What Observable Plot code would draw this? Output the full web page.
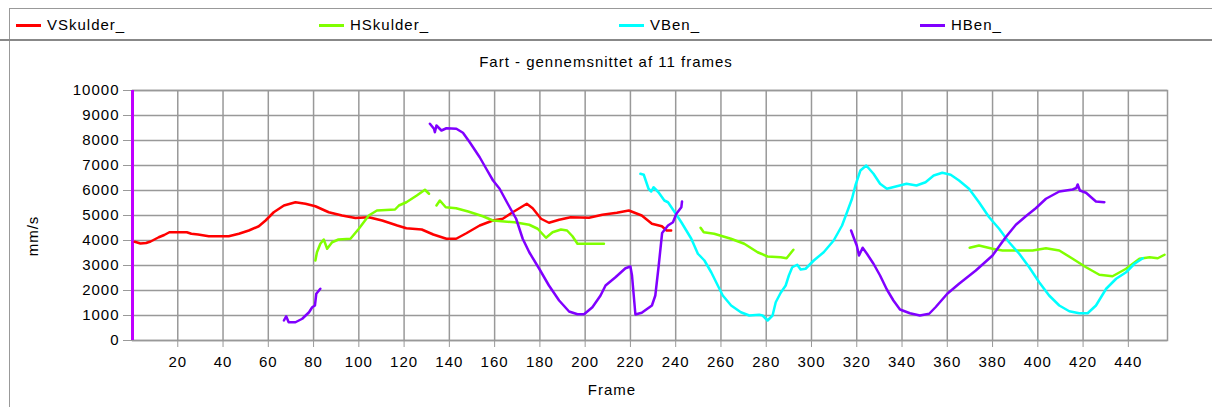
<!DOCTYPE html>
<html><head><meta charset="utf-8">
<script src="https://cdn.jsdelivr.net/npm/d3@7"></script>
<script src="https://cdn.jsdelivr.net/npm/@observablehq/plot@0.6"></script>
<style>
body{margin:0;background:#fff;font-family:Arial,"Liberation Sans",sans-serif;}
#wrap{position:relative;width:1212px;height:407px;overflow:hidden;background:#fff}
#box{position:absolute;left:9px;top:8px;width:1250px;height:420px;border-left:1px solid #999;border-top:1px solid #999}
#legend{position:absolute;left:0;top:9px;width:1212px;height:30px;border-bottom:2px solid #888}
.item{position:absolute;top:7px;font-size:15px;letter-spacing:1px;line-height:17px;white-space:nowrap}
.sw{position:absolute;top:15px;width:25px;height:3px}
#title{position:absolute;top:53px;left:0;width:1212px;text-align:center;font-size:15px;letter-spacing:1px;line-height:17px}
#chart{position:absolute;left:0;top:80px}
#xlab{position:absolute;top:381px;left:0;width:1224px;text-align:center;font-size:15px;letter-spacing:1px;line-height:17px}
#ylab{position:absolute;left:32px;top:236px;transform:translate(-50%,-50%) rotate(-90deg);font-size:15px;letter-spacing:1px;line-height:17px;white-space:nowrap}
#chart svg text{letter-spacing:1px}
</style>
</head><body>
<div id="wrap">
  <div id="box"></div>
  <div id="legend"></div>
  <div id="title"></div>
  <div id="chart"></div>
  <div id="xlab"></div>
  <div id="ylab"></div>
</div>
<script>
const seriesNames = ["VSkulder_", "HSkulder_", "VBen_", "HBen_"];
const seriesColors = ["#ff0000", "#80ff00", "#00ffff", "#8000ff"];
const titleText = "Fart - gennemsnittet af 11 frames";
const xLabel = "Frame";
const yLabel = "mm/s";
const xTicks = [20,40,60,80,100,120,140,160,180,200,220,240,260,280,300,320,340,360,380,400,420,440];
const yTicks = [0,1000,2000,3000,4000,5000,6000,7000,8000,9000,10000];

// VSkulder_ (red)
const vSkulder = [[1,3950],[3.5,3880],[6,3900],[8,3960],[11.6,4130],[14,4220],[16.3,4330],[20,4330],[24,4330],[26,4270],[29,4240],[33.7,4170],[42.5,4170],[47,4270],[51.4,4400],[55.8,4570],[58.8,4800],[62.4,5130],[66.9,5400],[72,5530],[76.4,5470],[80.8,5370],[86.7,5130],[92.6,5000],[98.5,4900],[104.4,4930],[110.3,4800],[117,4600],[121,4490],[127.8,4440],[132.9,4240],[138.7,4070],[143,4070],[147.5,4290],[153.4,4600],[159.2,4800],[163.6,4870],[168,5130],[174.2,5470],[176.8,5290],[180.5,4870],[184,4710],[188.5,4830],[193.6,4930],[201.7,4910],[207.6,5030],[214,5110],[219.3,5200],[225,5000],[229.5,4670],[233.9,4570],[236,4400],[238,4400]];

// HSkulder_ (green), four pieces
const hSkulderA = [[80.8,3200],[81.5,3530],[83,3870],[84.5,4040],[86,3670],[88.2,3930],[91,4040],[96.3,4070],[100,4470],[104.4,5000],[108,5200],[116,5240],[117.7,5400],[121,5530],[125.6,5800],[129.2,6030],[131,5870]];
const hSkulderB = [[134.3,5400],[135.8,5600],[138.4,5330],[143,5290],[148.3,5160],[154.8,4970],[159.2,4800],[168.8,4730],[175.3,4630],[179,4470],[182.7,4110],[185.6,4330],[189.3,4440],[192,4400],[194.4,4170],[196.6,3870],[203,3870],[208.3,3870]];
const hSkulderC = [[251,4510],[252.4,4330],[257,4270],[264.4,4070],[270.3,3870],[276.2,3530],[280.6,3360],[286.4,3330],[289,3290],[292,3630]];
const hSkulderD = [[369.9,3710],[374,3800],[380,3670],[384.4,3600],[397.7,3600],[403.6,3690],[409.5,3600],[415.4,3270],[421.3,2930],[427.2,2630],[433,2570],[439,2870],[444.9,3270],[449.4,3330],[453,3290],[456,3430]];

// VBen_ (cyan)
const vBen = [[224.4,6670],[225.9,6630],[228,6070],[229.2,5960],[230.2,6130],[232.4,5930],[235,5600],[236.6,5530],[239.6,5130],[242.5,4730],[246.9,4070],[249.8,3470],[252.7,3200],[255.7,2730],[258.6,2200],[260.8,1800],[264.5,1400],[268.8,1130],[272.5,1000],[276.9,1030],[278.4,1000],[280.6,800],[282.8,1000],[284.2,1530],[286.4,1910],[288.6,2200],[290,2600],[291.5,2930],[293.7,3030],[295.2,2840],[297.4,2870],[301,3200],[305.4,3530],[309.8,4000],[313.5,4600],[315.7,5130],[317.9,5670],[319.4,6200],[321.6,6800],[324.2,7000],[327.4,6670],[330.3,6270],[333.3,6070],[337.7,6170],[342,6270],[346.4,6200],[350.4,6330],[354,6600],[357.8,6710],[361.5,6630],[365.2,6400],[369.6,6070],[374,5530],[378.5,4930],[382.9,4470],[387.3,3930],[391.8,3470],[396.2,2930],[400.6,2330],[405,1800],[409.5,1400],[413.9,1170],[418.3,1090],[422,1090],[425.7,1400],[430.2,2070],[434.6,2470],[439,2730],[442.7,3070],[446.4,3290]];

// HBen_ (purple), three pieces
const hBenA = [[66.9,800],[67.9,970],[69,730],[72,730],[75,870],[78,1130],[79.4,1330],[80.6,1400],[81.2,1870],[83,2070]];
const hBenB = [[131.4,8670],[133.2,8470],[133.6,8330],[134.3,8600],[136.5,8400],[138.7,8490],[143.1,8470],[146,8310],[149,7930],[153.4,7330],[156.3,6870],[159.3,6400],[162.2,6070],[165.8,5470],[169.5,4870],[172.4,4070],[175.3,3530],[179.7,2870],[184,2200],[188.5,1600],[192.9,1160],[196.6,1050],[199.5,1050],[203.2,1330],[206.8,1800],[209,2200],[213.4,2530],[217.8,2890],[220,2960],[220.7,2600],[222.2,1040],[225,1110],[229.5,1400],[231,1800],[232.5,3000],[234,4300],[236.6,4600],[238.8,4730],[240.3,5070],[242.5,5330],[242.8,5560]];
const hBenC = [[317.5,4400],[318.6,4130],[320,3800],[321,3400],[322.6,3710],[324.5,3470],[327.4,3070],[330.3,2600],[333.3,2040],[336.2,1600],[339.1,1240],[343.5,1090],[347.9,1000],[352,1070],[354.8,1330],[360,1870],[365.2,2270],[372.6,2800],[380,3400],[385.8,4130],[390.3,4630],[394.7,4970],[399.1,5290],[403.6,5670],[409.5,5960],[415.4,6040],[417,6100],[417.6,6240],[418.6,6000],[421.3,5910],[424.3,5670],[425.7,5560],[429.4,5530]];

const pieces = [
  ["VSkulder_", vSkulder],
  ["HSkulder_", hSkulderA], ["HSkulder_", hSkulderB], ["HSkulder_", hSkulderC], ["HSkulder_", hSkulderD],
  ["VBen_", vBen],
  ["HBen_", hBenA], ["HBen_", hBenB], ["HBen_", hBenC]
];
const rows = pieces.flatMap(([name, pts], i) => pts.map(([f, v]) => ({series: name, seg: i, frame: f, value: v})));

// Legend
const legend = document.getElementById("legend");
const legendLeft = [16, 319, 619, 920];
seriesNames.forEach((n, i) => {
  const sw = document.createElement("div");
  sw.className = "sw"; sw.style.left = legendLeft[i] + "px"; sw.style.background = seriesColors[i];
  legend.appendChild(sw);
  const t = document.createElement("div");
  t.className = "item"; t.style.left = (legendLeft[i] + 31) + "px"; t.textContent = n;
  legend.appendChild(t);
});
document.getElementById("title").textContent = titleText;
document.getElementById("xlab").textContent = xLabel;
document.getElementById("ylab").textContent = yLabel;

const chart = Plot.plot({
  width: 1212,
  height: 327,
  marginLeft: 132,
  marginRight: 45,
  marginTop: 10,
  marginBottom: 67,
  style: {fontFamily: "Arial, 'Liberation Sans', sans-serif", fontSize: "15px", color: "#000", background: "transparent", overflow: "visible"},
  x: {domain: [0, 457.3]},
  y: {domain: [0, 10000]},
  color: {domain: seriesNames, range: seriesColors},
  marks: [
    Plot.gridX(xTicks, {stroke: "#999", strokeOpacity: 1, strokeWidth: 1.5}),
    Plot.gridY(yTicks, {stroke: "#999", strokeOpacity: 1, strokeWidth: 1.5}),
    Plot.frame({stroke: "#999", strokeWidth: 1.5}),
    Plot.axisX(xTicks, {tickSize: 7, tickPadding: 9, stroke: "#999", strokeOpacity: 1, label: null, tickFormat: d3.format("d"), fill: "#000"}),
    Plot.axisY(yTicks, {tickSize: 9, tickPadding: 4, stroke: "#999", strokeOpacity: 1, label: null, tickFormat: d3.format("d"), fill: "#000"}),
    Plot.ruleX([0], {stroke: "#c000ff", strokeWidth: 3}),
    Plot.line(rows, {x: "frame", y: "value", z: "seg", stroke: "series", strokeWidth: 2.5, curve: "linear"})
  ]
});
document.getElementById("chart").appendChild(chart);
</script>
</body></html>
